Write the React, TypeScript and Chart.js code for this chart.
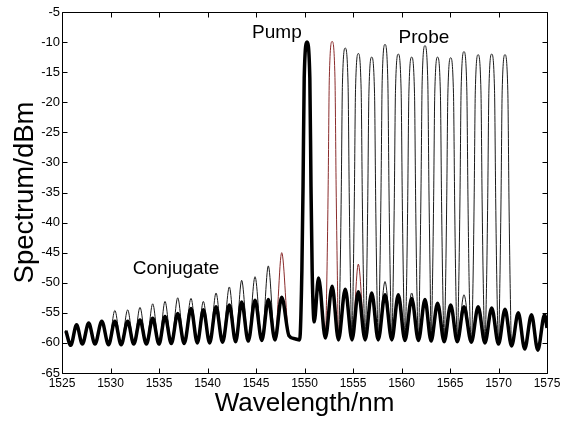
import React, { useEffect, useRef } from "react";
import { Chart, registerables } from "chart.js";

Chart.register(...registerables);

// Composite ASE ripple + pump (read as alternating ripple peaks / troughs)
const baseX = [
  1525.4, 1525.9, 1526.5, 1527.1, 1527.75, 1528.4, 1529.1, 1529.8, 1530.45, 1531.1,
  1531.77, 1532.4, 1533.04, 1533.7, 1534.35, 1535.0, 1535.62, 1536.27, 1536.93, 1537.6,
  1538.3, 1538.95, 1539.57, 1540.22, 1540.88, 1541.55, 1542.25, 1542.9, 1543.52, 1544.2,
  1544.9, 1545.6, 1546.27, 1546.95, 1547.65, 1548.4, 1549.0, 1549.5, 1550.26, 1551.0,
  1551.45, 1552.15, 1552.85, 1553.5, 1554.2, 1554.9, 1555.55, 1556.25, 1556.93, 1557.6,
  1558.3, 1559.0, 1559.67, 1560.35, 1561.05, 1561.75, 1562.42, 1563.05, 1563.72, 1564.4,
  1565.07, 1565.75, 1566.44, 1567.2, 1567.9, 1568.6, 1569.3, 1570.0, 1570.67, 1571.35,
  1572.04, 1572.7, 1573.4, 1574.05, 1574.75, 1575.0,
];
const baseY = [
  -58.0, -60.4, -57.0, -60.2, -56.7, -60.2, -56.4, -60.3, -56.4, -60.3,
  -56.4, -60.2, -56.2, -60.2, -55.9, -60.2, -55.6, -60.1, -55.1, -60.1,
  -54.3, -60.0, -54.5, -60.0, -54.0, -59.9, -53.7, -59.8, -53.2, -59.7,
  -52.9, -59.6, -52.8, -59.5, -52.4, -58.8, -59.3, -59.5, -10.0, -56.5,
  -49.2, -59.2, -50.6, -59.5, -51.1, -59.5, -51.5, -59.5, -51.7, -59.5,
  -52.0, -59.5, -52.0, -59.6, -52.6, -59.6, -52.8, -59.7, -53.4, -59.8,
  -53.7, -59.8, -54.0, -59.9, -54.0, -60.0, -54.2, -60.2, -54.4, -60.5,
  -55.0, -61.0, -55.3, -61.2, -55.3, -57.5,
];

// Pump line
const pumpX = 1550.26;
const pumpY = -10.0;

// Probe channels (one trace each)
const probeX = [1552.85, 1554.2, 1555.55, 1556.93, 1558.3, 1559.67, 1561.05, 1562.42, 1563.72, 1565.07, 1566.44, 1567.9, 1569.3, 1570.67];
const probeY = [-9.9, -11.0, -11.9, -12.5, -10.4, -12.0, -12.5, -10.6, -12.5, -12.6, -11.6, -12.1, -12.0, -12.1];
// Conjugate idlers of each probe
const conjX = [1547.65, 1546.27, 1544.9, 1543.52, 1542.25, 1540.88, 1539.57, 1538.3, 1536.93, 1535.62, 1534.35, 1533.04, 1531.77, 1530.45];
const conjY = [-45.0, -47.2, -49.0, -49.6, -50.7, -51.7, -53.1, -52.6, -52.5, -53.1, -53.5, -54.1, -54.5, -54.6];
// Second-order products seen on some traces
const extraTrace = [0, 1, 2, 4];
const extraX = [1555.55, 1558.3, 1561.05, 1566.44];
const extraY = [-46.9, -49.8, -51.7, -52.0];

// Line shape of a strong channel: offset from centre (nm) and drop below its top (dB)
const shapeDx = [0.29, 0.41, 0.53];
const shapeDrop = [6.0, 24.0, 38.0];

// Text annotations
const labelText = ["Pump", "Probe", "Conjugate"];
const labelX = [1544.6, 1559.7, 1532.3];
const labelY = [-9.3, -10.1, -48.6];

const FONT = '"Liberation Sans", Arial, Helvetica, sans-serif';

type P = { x: number; y: number };

function addShape(pts: P[], xc: number, yc: number) {
  shapeDx.forEach((dx, i) => {
    pts.push({ x: xc - dx, y: yc - shapeDrop[i] });
    pts.push({ x: xc + dx, y: yc - shapeDrop[i] });
  });
}

function basePoints(): P[] {
  const pts = baseX.map((x, i) => ({ x, y: baseY[i] }));
  addShape(pts, pumpX, pumpY);
  return pts;
}

function buildTrace(k: number): P[] {
  const over = new Map<number, number>();
  over.set(probeX[k], probeY[k]);
  over.set(conjX[k], conjY[k]);
  extraTrace.forEach((t, i) => {
    if (t === k) over.set(extraX[i], extraY[i]);
  });
  const pts = baseX.map((x, i) => ({ x, y: over.has(x) ? (over.get(x) as number) : baseY[i] }));
  addShape(pts, pumpX, pumpY);
  addShape(pts, probeX[k], probeY[k]);
  pts.sort((a, b) => a.x - b.x);
  return pts;
}

const framePlugin = {
  id: "frame",
  afterDraw(chart: any) {
    const { ctx, chartArea, scales } = chart;
    const { left, right, top, bottom } = chartArea;
    const xs = scales.x;
    const ys = scales.y;
    ctx.save();
    ctx.strokeStyle = "#000";
    ctx.lineWidth = 1;
    const L = Math.round(left) + 0.5;
    const R = Math.round(right) + 0.5;
    const T = Math.round(top) + 0.5;
    const B = Math.round(bottom) + 0.5;
    ctx.beginPath();
    ctx.rect(L, T, R - L, B - T);
    const tl = 5;
    xs.ticks.forEach((t: any) => {
      const px = Math.round(xs.getPixelForValue(t.value)) + 0.5;
      ctx.moveTo(px, B);
      ctx.lineTo(px, B - tl);
      ctx.moveTo(px, T);
      ctx.lineTo(px, T + tl);
    });
    ys.ticks.forEach((t: any) => {
      const py = Math.round(ys.getPixelForValue(t.value)) + 0.5;
      ctx.moveTo(L, py);
      ctx.lineTo(L + tl, py);
      ctx.moveTo(R, py);
      ctx.lineTo(R - tl, py);
    });
    ctx.stroke();
    ctx.fillStyle = "#000";
    ctx.font = `19px ${FONT}`;
    ctx.textAlign = "left";
    ctx.textBaseline = "alphabetic";
    labelText.forEach((s, i) => {
      ctx.fillText(s, xs.getPixelForValue(labelX[i]), ys.getPixelForValue(labelY[i]));
    });
    ctx.restore();
  },
};

export default function App() {
  const ref = useRef<HTMLCanvasElement | null>(null);

  useEffect(() => {
    if (!ref.current) return;
    const traces = probeX.map((_, k) => ({
      data: buildTrace(k),
      borderColor: k === 0 ? "#8a2b2b" : "#1a1a1a",
      borderWidth: 1,
      pointRadius: 0,
      cubicInterpolationMode: "monotone" as const,
    }));
    const thickPts = basePoints().sort((a, b) => a.x - b.x);
    const thick = {
      data: thickPts,
      borderColor: "#000000",
      borderWidth: 3.5,
      pointRadius: 0,
      cubicInterpolationMode: "monotone" as const,
    };
    const blacks = traces.slice(1);
    const brown = traces[0];
    const chart = new Chart(ref.current, {
      type: "line",
      data: { datasets: [thick, ...blacks, brown] as any },
      options: {
        animation: false,
        responsive: false,
        devicePixelRatio: 1,
        layout: { padding: { top: 12, right: 20, left: 0, bottom: 0 } },
        plugins: { legend: { display: false }, tooltip: { enabled: false } },
        scales: {
          x: {
            type: "linear",
            min: 1525,
            max: 1575,
            afterFit: (s: any) => {
              s.height = 51;
            },
            grid: { display: false, drawTicks: false },
            border: { display: false },
            ticks: {
              stepSize: 5,
              autoSkip: false,
              maxRotation: 0,
              padding: 3,
              color: "#000",
              font: { family: FONT, size: 12 },
              callback: (v: any) => String(v),
            },
            title: {
              display: true,
              text: "Wavelength/nm",
              color: "#000",
              font: { family: FONT, size: 26, lineHeight: 1.2 },
              padding: { top: 0, bottom: 5 },
            },
          },
          y: {
            type: "linear",
            min: -65,
            max: -5,
            afterFit: (s: any) => {
              s.width = 62;
            },
            grid: { display: false, drawTicks: false },
            border: { display: false },
            ticks: {
              stepSize: 5,
              autoSkip: false,
              padding: 2,
              color: "#000",
              font: { family: FONT, size: 13 },
              callback: (v: any) => String(v),
            },
            title: {
              display: true,
              text: "Spectrum/dBm",
              color: "#000",
              font: { family: FONT, size: 27.5, lineHeight: 1.2 },
              padding: { top: 9, bottom: 0 },
            },
          },
        },
      },
      plugins: [framePlugin],
    });
    return () => chart.destroy();
  }, []);

  return (
    <div style={{ position: "fixed", left: 0, top: 0, width: 567, height: 424, background: "#fff" }}>
      <canvas ref={ref} width={567} height={424} style={{ display: "block" }} />
    </div>
  );
}
